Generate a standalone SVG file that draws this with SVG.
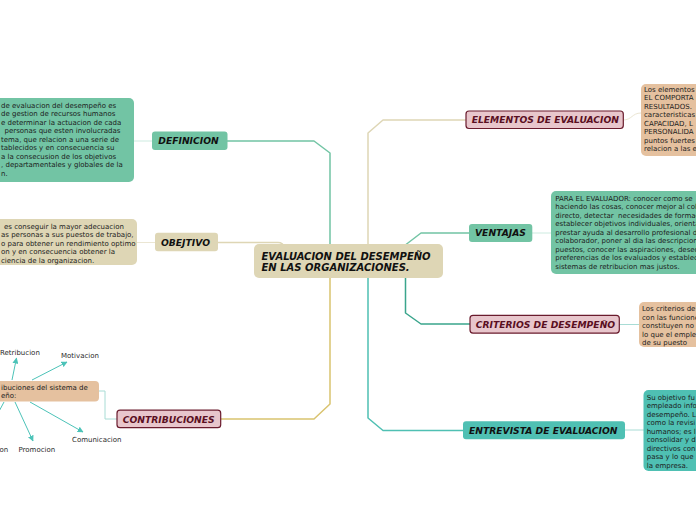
<svg xmlns="http://www.w3.org/2000/svg" width="696" height="520" viewBox="0 0 696 520">
<style>
.d{font-family:"DejaVu Sans",Verdana,sans-serif;font-size:7px;fill:#1c1c1c}
.s{font-family:"DejaVu Sans",Verdana,sans-serif;font-size:7px;fill:#2a2a2a}
.n{font-family:"DejaVu Sans",Verdana,sans-serif;font-size:9.2px;font-weight:bold;font-style:italic;fill:#111}
.np{font-family:"DejaVu Sans",Verdana,sans-serif;font-size:9.2px;font-weight:bold;font-style:italic;fill:#5a0f22}
.c{font-family:"DejaVu Sans",Verdana,sans-serif;font-size:10px;font-weight:bold;font-style:italic;fill:#111}
.g{fill:#72c4a4}
.b{fill:#ded6b5}
.t{fill:#e5c19f}
.q{fill:#4fc0b3}
.p{fill:#e8c6cc;stroke:#6a1b2d;stroke-width:1.2}
.l{fill:none;stroke-width:1.5;stroke-linejoin:round}
.f{fill:none;stroke-width:1}
.a{fill:none;stroke:#4cc3b8;stroke-width:1}
</style>
<defs>
<marker id="ah" viewBox="0 0 10 10" refX="9" refY="5" markerWidth="6" markerHeight="6" markerUnits="userSpaceOnUse" orient="auto">
<path d="M0,0 L10,5 L0,10 z" fill="#4cc3b8"/>
</marker>
</defs>
<g id="connectors">
<path class="l" stroke="#72c4a4" d="M227,141 H314 L330,153 V250"/>
<path class="l" stroke="#ded6b5" d="M218,242.5 H278 Q283,242.5 285,248"/>
<path class="l" stroke="#d9c36f" d="M221,419 H314 L330,404 V270"/>
<path class="l" stroke="#ded6b5" d="M466,120 H383 L368,133 V250"/>
<path class="l" stroke="#72c4a4" d="M469,233 H421 L404,246"/>
<path class="l" stroke="#3aa58c" d="M470,324 H421 L405.5,313 V270"/>
<path class="l" stroke="#4fc0b3" d="M463,430.5 H383 L368,418 V270"/>
<path class="f" stroke="#cdebe0" d="M134,141 H152"/>
<path class="f" stroke="#ebe6d3" d="M137,242.5 H155"/>
<path class="f" stroke="#a8dcd5" d="M99,391 H105 V419 H117"/>
<path class="f" stroke="#ebe6d3" d="M623,120 C632,120 632,113 641,113"/>
<path class="f" stroke="#cdebe0" d="M532,233 H551"/>
<path class="f" stroke="#a8dcd5" d="M619,324.5 H639"/>
<path class="f" stroke="#a8dcd5" d="M625,430 H644"/>
<path class="a" marker-end="url(#ah)" d="M12,380 L16.5,358"/>
<path class="a" marker-end="url(#ah)" d="M32,380 L67,362"/>
<path class="a" d="M4,402 L-4,417"/>
<path class="a" marker-end="url(#ah)" d="M15,402 L33,441"/>
<path class="a" marker-end="url(#ah)" d="M30,402 L83,432"/>
</g>
<g id="center">
<rect class="b" x="254" y="244" width="189" height="34" rx="5"/>
<text class="c" x="261.5" y="259.5">EVALUACION DEL DESEMPEÑO</text>
<text class="c" x="261.5" y="271">EN LAS ORGANIZACIONES.</text>
</g>
<g id="definicion">
<rect class="g" x="152" y="131.5" width="75.5" height="18.5" rx="3"/>
<text class="n" x="158.3" y="144.3">DEFINICION</text>
</g>
<g id="definicion-texto">
<rect class="g" x="-10" y="98" width="144" height="84" rx="5"/>
<text class="d" x="1" y="107.5">de evaluacion del desempeño es</text>
<text class="d" x="1" y="116">de gestion de recursos humanos</text>
<text class="d" x="1" y="124.5">e determinar la actuacion de cada</text>
<text class="d" x="4.5" y="133">personas que esten involucradas</text>
<text class="d" x="1" y="141.5">tema, que relacion a una serie de</text>
<text class="d" x="1" y="150">tablecidos y en consecuencia su</text>
<text class="d" x="1" y="158.5">a la consecusion de los objetivos</text>
<text class="d" x="1" y="167">, departamentales y globales de la</text>
<text class="d" x="1" y="175.5">n.</text>
</g>
<g id="objetivo">
<rect class="b" x="155" y="232.8" width="63" height="18.5" rx="3"/>
<text class="n" x="161" y="245.8">OBEJTIVO</text>
</g>
<g id="objetivo-texto">
<rect class="b" x="-10" y="219" width="147" height="46" rx="5"/>
<text class="d" x="4" y="228.5">es conseguir la mayor adecuacion</text>
<text class="d" x="1" y="237">as personas a sus puestos de trabajo,</text>
<text class="d" x="1" y="245.5">o para obtener un rendimiento optimo</text>
<text class="d" x="1" y="254">on y en consecuencia obtener la</text>
<text class="d" x="1" y="262.5">ciencia de la organizacion.</text>
</g>
<g id="contribuciones">
<rect class="p" x="117" y="410.2" width="103.7" height="17.5" rx="3"/>
<text class="np" x="122.7" y="422.8">CONTRIBUCIONES</text>
</g>
<g id="contribuciones-texto">
<rect class="t" x="-10" y="381" width="109" height="20.5" rx="4"/>
<text class="d" x="1" y="389.5">ibuciones del sistema de</text>
<text class="d" x="1" y="398">eño:</text>
</g>
<g id="retribucion"><text class="s" x="0" y="354.5">Retribucion</text></g>
<g id="motivacion"><text class="s" x="61" y="358">Motivacion</text></g>
<g id="comunicacion"><text class="s" x="72" y="441.5">Comunicacion</text></g>
<g id="promocion"><text class="s" x="18.5" y="451.5">Promocion</text></g>
<g id="capacitacion"><text class="s" x="-0.5" y="451.5">on</text></g>
<g id="elementos">
<rect class="p" x="466" y="111" width="157.3" height="17.5" rx="3"/>
<text class="np" x="471.7" y="123.3">ELEMENTOS DE EVALUACION</text>
</g>
<g id="elementos-texto">
<rect class="t" x="641" y="84" width="70" height="72" rx="5"/>
<text class="d" x="644" y="91.5">Los elementos</text>
<text class="d" x="644" y="100">EL COMPORTA</text>
<text class="d" x="644" y="108.5">RESULTADOS.</text>
<text class="d" x="644" y="117">caracteristicas</text>
<text class="d" x="644" y="125.5">CAPACIDAD, L</text>
<text class="d" x="644" y="134">PERSONALIDA</text>
<text class="d" x="644" y="142.5">puntos fuertes</text>
<text class="d" x="644" y="151">relacion a las e</text>
</g>
<g id="ventajas">
<rect class="g" x="469" y="224" width="63.3" height="18" rx="3"/>
<text class="n" x="475" y="236.3">VENTAJAS</text>
</g>
<g id="ventajas-texto">
<rect class="g" x="551" y="191" width="160" height="83" rx="5"/>
<text class="d" x="555.3" y="200.5">PARA EL EVALUADOR: conocer como se</text>
<text class="d" x="555.3" y="209">haciendo las cosas, conocer mejor al col</text>
<text class="d" x="555.3" y="217.5" style="white-space:pre">directo, detectar  necesidades de formac</text>
<text class="d" x="555.3" y="226">establecer objetivos individuales, orienta</text>
<text class="d" x="555.3" y="234.5">prestar ayuda al desarrollo profesional d</text>
<text class="d" x="555.3" y="243">colaborador, poner al dia las descripcione</text>
<text class="d" x="555.3" y="251.5">puestos, conocer las aspiraciones, deseo</text>
<text class="d" x="555.3" y="260">preferencias de los evaluados y establec</text>
<text class="d" x="555.3" y="268.5">sistemas de retribucion mas justos.</text>
</g>
<g id="criterios">
<rect class="p" x="470" y="315.3" width="149.3" height="17.8" rx="3"/>
<text class="np" x="475.7" y="327.6">CRITERIOS DE DESEMPEÑO</text>
</g>
<g id="criterios-texto">
<rect class="t" x="639" y="302" width="70" height="45" rx="5"/>
<text class="d" x="642" y="311">Los criterios de</text>
<text class="d" x="642" y="319.5">con las funcione</text>
<text class="d" x="642" y="328">constituyen no s</text>
<text class="d" x="642" y="336.5">lo que el emplea</text>
<text class="d" x="642" y="345">de su puesto</text>
</g>
<g id="entrevista">
<rect class="q" x="463" y="421.3" width="162" height="18" rx="3"/>
<text class="n" x="469" y="433.8">ENTREVISTA DE EVALUACION</text>
</g>
<g id="entrevista-texto">
<rect class="q" x="643.5" y="390" width="70" height="81" rx="5"/>
<text class="d" x="646.7" y="399.5">Su objetivo fu</text>
<text class="d" x="646.7" y="408">empleado info</text>
<text class="d" x="646.7" y="416.5">desempeño. L</text>
<text class="d" x="646.7" y="425">como la revisi</text>
<text class="d" x="646.7" y="433.5">humanos; es l</text>
<text class="d" x="646.7" y="442">consolidar y d</text>
<text class="d" x="646.7" y="450.5">directivos con</text>
<text class="d" x="646.7" y="459">pasa y lo que</text>
<text class="d" x="646.7" y="467.5">la empresa.</text>
</g>
</svg>
